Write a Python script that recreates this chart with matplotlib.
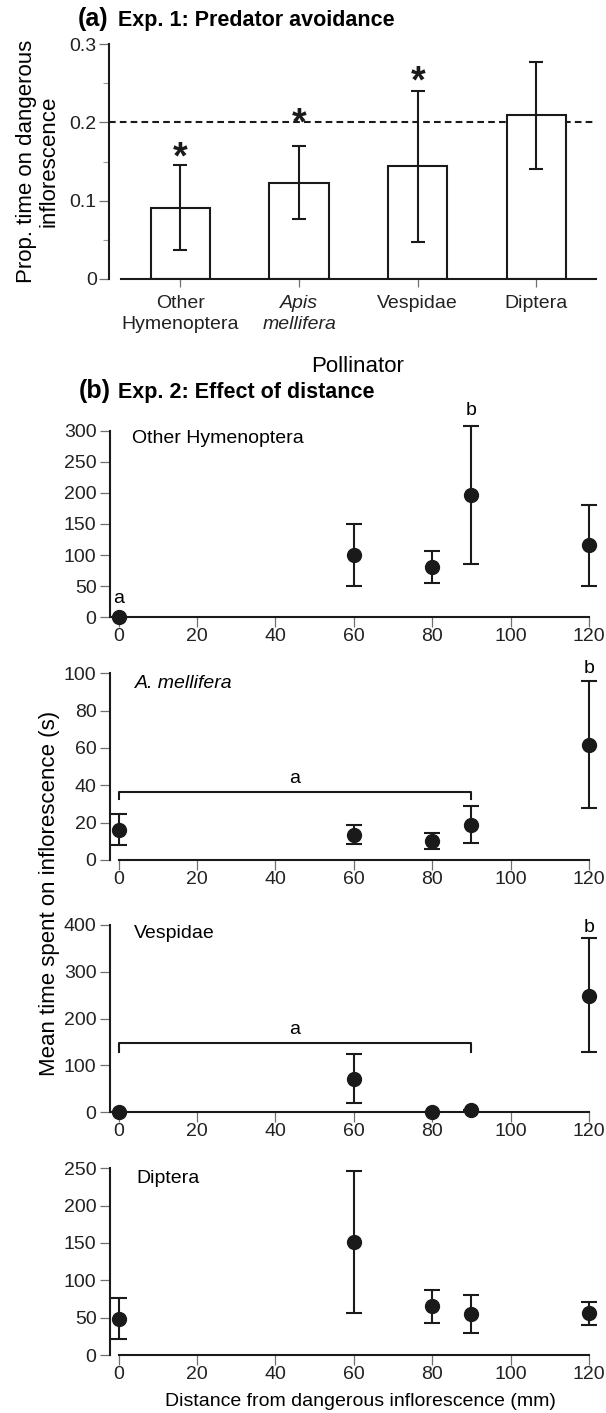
import numpy as np
import matplotlib.pyplot as plt

plt.rcParams['font.family'] = ['Liberation Sans', 'DejaVu Sans']

# ---- data: Exp. 1 (proportion of time on dangerous inflorescence)
pollinators = ['Other\nHymenoptera', 'Apis\nmellifera', 'Vespidae', 'Diptera']
prop_mean = [0.091, 0.123, 0.144, 0.209]
prop_upper = [0.145, 0.170, 0.240, 0.277]
prop_lower = [0.037, 0.076, 0.047, 0.141]
star_y = [0.169, 0.213, 0.266]   # asterisks over first three bars
expected_prop = 0.2

# ---- data: Exp. 2 (mean time on inflorescence vs distance)
distances = [0, 60, 80, 90, 120]
hym_mean = [0, 100, 81, 196, 117]
hym_upper = [0, 150, 107, 307, 181]
hym_lower = [0, 50, 55, 85, 51]
apis_mean = [16.1, 13.4, 10.4, 18.8, 61.8]
apis_upper = [24.4, 18.6, 14.6, 28.9, 95.7]
apis_lower = [8.0, 8.4, 5.9, 8.9, 27.7]
vesp_mean = [0, 72, 0, 4, 249]
vesp_upper = [0, 124, 0, 4, 372]
vesp_lower = [0, 20, 0, 4, 128]
dipt_mean = [48.5, 151, 65, 54.6, 56]
dipt_upper = [76, 246, 87, 80, 71]
dipt_lower = [21, 56, 43, 29.5, 40.7]

W, H = 606, 1413
fig = plt.figure(figsize=(W / 100, H / 100), dpi=100)
ink = '#1a1a1a'
tickc = '#707070'


def px_axes(l, t, r, b):
    return fig.add_axes([l / W, 1 - b / H, (r - l) / W, (b - t) / H])


def style(ax):
    for s in ['top', 'right']:
        ax.spines[s].set_visible(False)
    for s in ['left', 'bottom']:
        ax.spines[s].set_linewidth(1.5)
        ax.spines[s].set_color(ink)
    ax.tick_params(direction='out', length=7, width=0.9, color=tickc,
                   labelsize=14, labelcolor='#222222')
    ax.tick_params(axis='y', pad=2)


# ---------------- panel (a)
ax = px_axes(109.3, 44.3, 595.7, 278.7)
x = np.arange(len(pollinators))
mean = np.array(prop_mean)
yerr = [mean - np.array(prop_lower), np.array(prop_upper) - mean]
ax.bar(x, mean, width=0.5, color='white', edgecolor=ink, linewidth=1.5, zorder=2)
ax.errorbar(x, mean, yerr=yerr, fmt='none', ecolor=ink, elinewidth=1.5,
            capsize=5, capthick=1.5, zorder=3)
ax.axhline(expected_prop, color=ink, lw=1.5, ls=(0, (3.2, 2)), zorder=1)
for i, sy in enumerate(star_y):
    ax.annotate('*', (x[i], sy), xytext=(0, -0.58 * 27), textcoords='offset points',
                ha='center', va='baseline', fontsize=27, fontweight='bold', color=ink)
ax.set_xlim(-0.6, 3.5)
ax.set_ylim(0, 0.3)
style(ax)
ax.spines['bottom'].set_bounds(-0.5, 3.5)
ax.set_yticks([0, 0.1, 0.2, 0.3])
ax.set_yticklabels(['0', '0.1', '0.2', '0.3'])
ax.set_yticks([0.05, 0.15, 0.25], minor=True)
ax.tick_params(axis='y', which='minor', length=4, width=0.8, color='#9a9a9a')
ax.set_xticks(x)
ax.set_xticklabels(pollinators, linespacing=1.25)
ax.tick_params(axis='x', length=6, pad=6)
ax.get_xticklabels()[1].set_fontstyle('italic')

fig.text(37.5 / W, 1 - 161.5 / H, 'Prop. time on dangerous\ninflorescence', rotation=90,
         ha='center', va='center', fontsize=16, linespacing=1.1)
fig.text(357.9 / W, 1 - 366 / H, 'Pollinator', ha='center', va='center', fontsize=16)
fig.text(78 / W, 1 - 26 / H, '(a)', fontsize=18, fontweight='bold', va='baseline')
fig.text(118 / W, 1 - 26 / H, 'Exp. 1: Predator avoidance', fontsize=15.5,
         fontweight='bold', va='baseline')
fig.text(79 / W, 1 - 398.3 / H, '(b)', fontsize=18, fontweight='bold', va='baseline')
fig.text(118 / W, 1 - 398.3 / H, 'Exp. 2: Effect of distance', fontsize=15.5,
         fontweight='bold', va='baseline')

# ---------------- panel (b)
series = [
    (hym_mean, hym_upper, hym_lower, 300, 50, 'Other Hymenoptera', 'normal'),
    (apis_mean, apis_upper, apis_lower, 100, 20, 'A. mellifera', 'italic'),
    (vesp_mean, vesp_upper, vesp_lower, 400, 100, 'Vespidae', 'normal'),
    (dipt_mean, dipt_upper, dipt_lower, 250, 50, 'Diptera', 'normal'),
]
tops = [430.7, 673.3, 924.7, 1168.3]
bottoms = [617.3, 860, 1112.3, 1355]
name_pos = [(3.3, 288), (4.1, 94.6), (3.9, 382), (4.5, 237)]

axes_b = []
for (m, up, lo, ymax, step, name, fstyle), t, b, npos in zip(series, tops, bottoms, name_pos):
    ax = px_axes(110.5, t, 596.8, b)
    m = np.array(m)
    err = [m - np.array(lo), np.array(up) - m]
    cont = ax.errorbar(distances, m, yerr=err, fmt='o', color=ink, ms=10,
                       elinewidth=1.5, capsize=5.5, capthick=1.5, zorder=4)
    for art in [cont[0], *cont[1], *cont[2]]:
        art.set_clip_on(False)
    ax.set_xlim(-2.1, 122)
    ax.set_ylim(0, ymax)
    style(ax)
    ax.spines['bottom'].set_bounds(0, 120)
    ax.spines['left'].set_bounds(0, ymax)
    ax.set_xticks(range(0, 121, 20))
    ax.set_yticks(range(0, ymax + 1, step))
    ax.tick_params(axis='x', pad=1)
    ax.tick_params(axis='y', pad=3)
    ax.text(npos[0], npos[1], name, fontsize=14, fontstyle=fstyle, va='center', ha='left')
    axes_b.append(ax)

# letters for significance groups
ax1, ax2, ax3, ax4 = axes_b
ax1.text(0, 31, 'a', fontsize=14, ha='center', va='center')
ax1.text(90, 333, 'b', fontsize=14, ha='center', va='center')
ax2.plot([0, 0, 90, 90], [32.5, 36.6, 36.6, 32.5], color=ink, lw=1.5)
ax2.text(45, 43.8, 'a', fontsize=14, ha='center', va='center')
ax2.text(120, 102.7, 'b', fontsize=14, ha='center', va='center')
ax3.plot([0, 0, 90, 90], [128, 148.6, 148.6, 128], color=ink, lw=1.5)
ax3.text(45, 177, 'a', fontsize=14, ha='center', va='center')
ax3.text(120, 394.5, 'b', fontsize=14, ha='center', va='center')

fig.text(50 / W, 1 - 893 / H, 'Mean time spent on inflorescence (s)', rotation=90,
         ha='center', va='center', fontsize=16)
fig.text(360 / W, 1 - 1401 / H, 'Distance from dangerous inflorescence (mm)',
         ha='center', va='center', fontsize=14)

fig.savefig('out.png', dpi=100)
